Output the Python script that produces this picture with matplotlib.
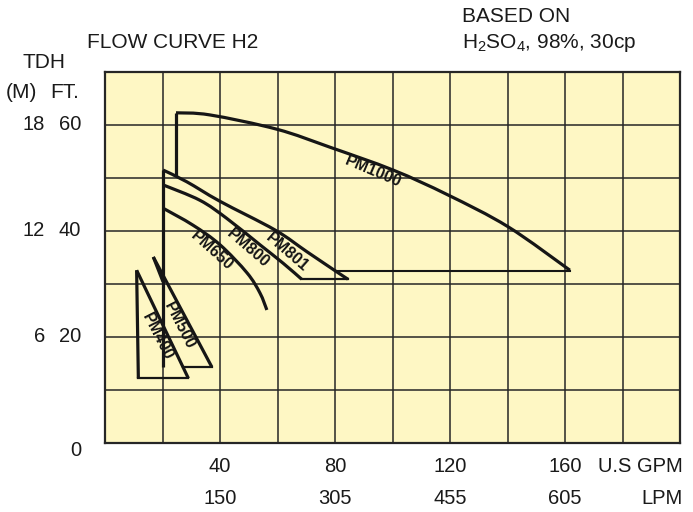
import matplotlib
matplotlib.use("Agg")
import matplotlib.pyplot as plt
from matplotlib.path import Path
from matplotlib.patches import PathPatch
import numpy as np

plt.rcParams['font.family'] = ['Liberation Sans', 'DejaVu Sans']
plt.rcParams['mathtext.fontset'] = 'custom'
plt.rcParams['mathtext.rm'] = 'Liberation Sans'
plt.rcParams['mathtext.it'] = 'Liberation Sans'

# ---- data (flow in US GPM, head in FT) ----
gpm_ticks = [40, 80, 120, 160]
lpm_labels = ["150", "305", "455", "605"]
ft_ticks = [60, 40, 20, 0]
m_labels = ["18", "12", "6", ""]

pm1000_q = [24.7, 36.5, 59.8, 78.3, 100.2, 119.3, 140.2, 161.7]
pm1000_h = [62.3, 61.9, 59.2, 55.8, 51.5, 46.8, 40.8, 32.6]
pm1000_base = 32.5

pm801_q = [20.2, 28.4, 40.0, 59.1, 70.2, 80.6, 84.5]
pm801_h = [51.5, 49.3, 45.6, 40.2, 36.1, 32.3, 30.9]

pm800_q = [20.2, 33.0, 42.3, 53.9, 62.0, 68.4]
pm800_h = [48.7, 45.8, 42.4, 37.4, 33.9, 30.9]

pm650_q = [20.2, 30.6, 40.0, 49.4, 53.9, 56.3]
pm650_h = [44.3, 41.1, 37.4, 32.1, 28.3, 25.1]

pm500_q = [16.8, 37.1]
pm500_h = [35.1, 14.4]
pm500_left_q = [16.8, 20.2]
pm500_left_h = [35.1, 30.4]

pm400_q = [11.0, 29.0]
pm400_h = [32.6, 12.2]
pm400_left_q = [11.0, 11.6]

main_q = 20.2

labels = ["PM1000", "PM801", "PM800", "PM650", "PM500", "PM400"]
label_q = [93.3, 63.3, 49.9, 37.1, 25.8, 18.3]
label_h = [51.2, 36.0, 36.7, 36.3, 22.1, 20.1]
label_rot = [-23, -41, -41, -42, -63, -63]

# ---- figure ----
W, H = 693, 512
fig = plt.figure(figsize=(W / 100, H / 100), dpi=100)
ax = fig.add_axes([105 / W, 1 - 443 / H, 575 / W, 371 / H])
ax.set_facecolor('#FEF7C4')
ax.set_xlim(0, 200)
ax.set_ylim(0, 70)
ax.set_xticks(np.arange(0, 201, 20))
ax.set_yticks(np.arange(0, 71, 10))
ax.tick_params(length=0, labelbottom=False, labelleft=False)
ax.grid(True, color='#262626', lw=1.1)
ax.set_axisbelow(True)
for s in ax.spines.values():
    s.set_linewidth(1.6)
    s.set_color('#262626')

lc = '#161616'
lw = 2.3
kw = dict(color=lc, lw=lw, solid_capstyle='butt', solid_joinstyle='miter')


def smooth(q, h):
    """Draw a smooth curve through the read points (Catmull-Rom as Bezier)."""
    P = np.column_stack([q, h]).astype(float)
    verts = [P[0]]
    codes = [Path.MOVETO]
    n = len(P)
    for i in range(n - 1):
        p0 = P[i - 1] if i > 0 else P[i]
        p1, p2 = P[i], P[i + 1]
        p3 = P[i + 2] if i + 2 < n else P[i + 1]
        c1 = p1 + (p2 - p0) / 6.0
        c2 = p2 - (p3 - p1) / 6.0
        verts += [c1, c2, p2]
        codes += [Path.CURVE4] * 3
    ax.add_patch(PathPatch(Path(verts, codes), fill=False, edgecolor=lc,
                           lw=lw, capstyle='butt', joinstyle='miter'))


# PM1000
smooth(pm1000_q, pm1000_h)
q0 = pm1000_q[0]
ax.plot([q0, q0], [pm1000_h[0], np.interp(q0, pm801_q, pm801_h)], **kw)
q_start = np.interp(pm1000_base, pm801_h[::-1], pm801_q[::-1])
ax.plot([q_start, pm1000_q[-1]], [pm1000_base, pm1000_base], color=lc, lw=1.5)

# PM801 / PM800 / PM650
smooth(pm801_q, pm801_h)
smooth(pm800_q, pm800_h)
smooth(pm650_q, pm650_h)
ax.plot([pm800_q[-1], pm801_q[-1]], [pm801_h[-1], pm801_h[-1]], color=lc, lw=1.6)

# main vertical line
ax.plot([main_q, main_q], [pm801_h[0], pm500_h[-1]], **kw)

# PM500
ax.plot(pm500_q, pm500_h, **kw)
ax.plot(pm500_left_q, pm500_left_h, **kw)
q_b = np.interp(pm500_h[-1], pm400_h[::-1], pm400_q[::-1])
ax.plot([q_b, pm500_q[-1]], [pm500_h[-1], pm500_h[-1]], color=lc, lw=1.6)

# PM400
ax.plot(pm400_q, pm400_h, **kw)
ax.plot(pm400_left_q, [pm400_h[0], pm400_h[-1]], **kw)
ax.plot([pm400_left_q[-1], pm400_q[-1]], [pm400_h[-1], pm400_h[-1]], color=lc, lw=1.6)

for t, q, h, r in zip(labels, label_q, label_h, label_rot):
    ax.text(q, h, t, rotation=r, rotation_mode='anchor', ha='center', va='center',
            fontsize=11.5, fontweight='bold', color=lc)

# ---- axis texts ----
tc = '#1a1a1a'
bx = ax.get_xaxis_transform()
for q, lp in zip(gpm_ticks, lpm_labels):
    ax.text(q, -24 / 371, str(q), transform=bx, ha='center', va='center', fontsize=14.5, color=tc)
    ax.text(q, -55 / 371, lp, transform=bx, ha='center', va='center', fontsize=14.5, color=tc)
ax.text(1.005, -24 / 371, "U.S GPM", transform=ax.transAxes, ha='right', va='center', fontsize=14.5, color=tc)
ax.text(1.005, -55 / 371, "LPM", transform=ax.transAxes, ha='right', va='center', fontsize=14.5, color=tc)

by = ax.get_yaxis_transform()
for h, m in zip(ft_ticks, m_labels):
    yy = h if h > 0 else -1.4
    ax.text(-24 / 575, yy, str(h), transform=by, ha='right', va='center', fontsize=14.5, color=tc)
    if m:
        ax.text(-60 / 575, yy, m, transform=by, ha='right', va='center', fontsize=14.5, color=tc)


def ftext(x, y, s, **k):
    fig.text(x / W, 1 - y / H, s, va='center', color=tc, **k)


ftext(87, 43, "FLOW CURVE H2", fontsize=15)
ftext(44, 63, "TDH", fontsize=15, ha='center')
ftext(6, 92, "(M)", fontsize=15)
ftext(50, 92, "FT.", fontsize=15)
ftext(462, 17, "BASED ON", fontsize=15)
ftext(462, 43, r"$\mathrm{H_2SO_4}$, 98%, 30cp", fontsize=15)

fig.savefig("out.png", dpi=100)
